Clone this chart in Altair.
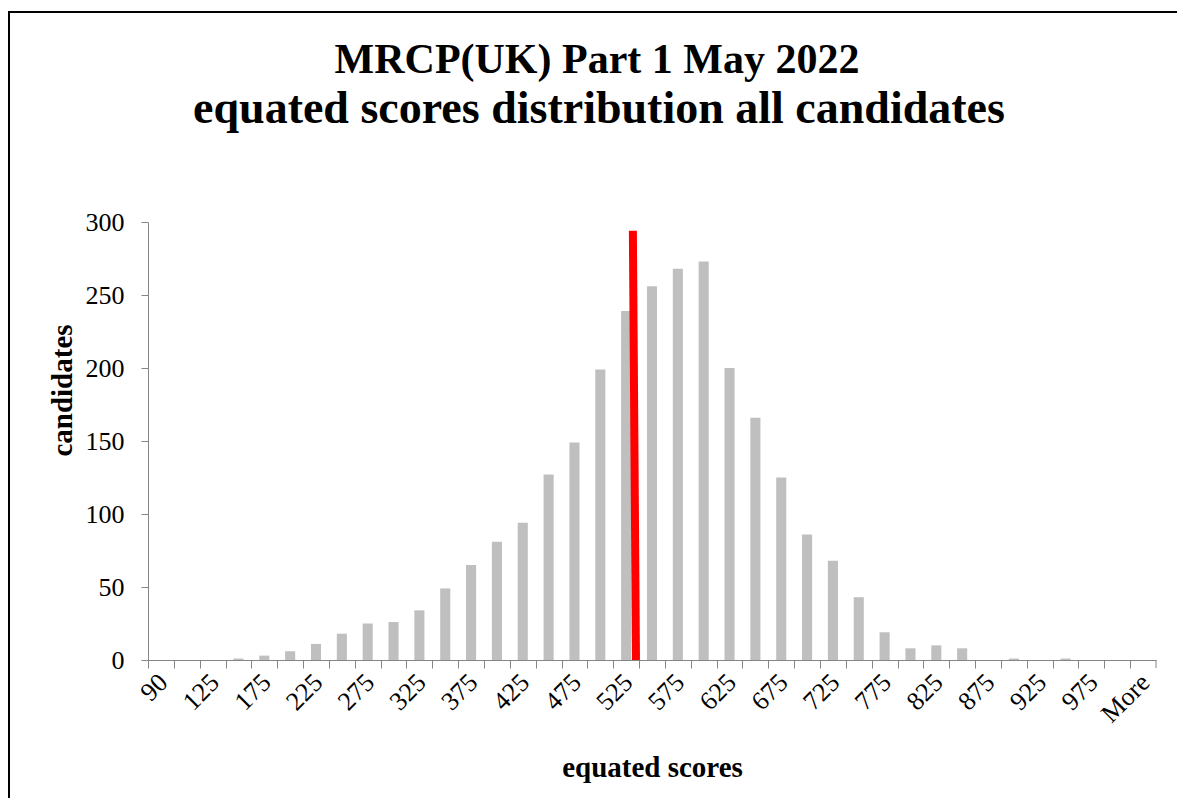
import altair as alt
import pandas as pd

categories = ["90", "100", "125", "150", "175", "200", "225", "250", "275", "300",
              "325", "350", "375", "400", "425", "450", "475", "500", "525", "550",
              "575", "600", "625", "650", "675", "700", "725", "750", "775", "800",
              "825", "850", "875", "900", "925", "950", "975", "1000", "More"]
counts = [0, 0, 0, 1, 3, 6, 11, 18, 25, 26,
          34, 49, 65, 81, 94, 127, 149, 199, 239, 256,
          268, 273, 200, 166, 125, 86, 68, 43, 19, 8,
          10, 8, 0, 1, 0, 1, 0, 0, 0]
shown_labels = ["90", "125", "175", "225", "275", "325", "375", "425", "475", "525",
                "575", "625", "675", "725", "775", "825", "875", "925", "975", "More"]
y_ticks = [0, 50, 100, 150, 200, 250, 300]

# pass-mark line, in category-slot units along the x axis
pass_pos = [18.76, 18.88]
pass_val = [294, 0]

title_line1 = "MRCP(UK) Part 1 May 2022"
title_line2 = "equated scores distribution all candidates"

FONT = "Liberation Serif"
AXIS_GREY = "#868686"
W, H = 1008, 438
STEP = W / len(categories)

df = pd.DataFrame({"score": categories, "candidates": counts})
pass_df = pd.DataFrame({"pos": pass_pos, "cand": pass_val, "o": [0, 1]})
one = pd.DataFrame({"a": [0]})

label_list = "[" + ",".join("'" + s + "'" for s in shown_labels) + "]"

bars = alt.Chart(df).mark_bar(color="#BFBFBF").encode(
    x=alt.X("score:N", sort=categories,
            scale=alt.Scale(paddingInner=0.61, paddingOuter=0.305),
            axis=alt.Axis(title="equated scores",
                          labelExpr=f"indexof({label_list}, datum.label) >= 0 ? datum.label : ''",
                          labelAngle=-45, labelAlign="right", labelBaseline="middle",
                          labelPadding=10, labelOffset=STEP / 2 + 2,
                          tickOffset=-STEP / 2, tickSize=8, tickColor=AXIS_GREY,
                          domainColor=AXIS_GREY, labelOverlap=False, labelBound=False,
                          labelFont=FONT, labelFontSize=26, labelColor="black",
                          titleFont=FONT, titleFontSize=29, titleFontWeight="bold",
                          titleColor="black", titleY=116, titleBaseline="alphabetic")),
    y=alt.Y("candidates:Q", scale=alt.Scale(domain=[0, 300], nice=False),
            axis=alt.Axis(title="candidates", values=y_ticks, grid=False,
                          tickSize=7, tickColor=AXIS_GREY, domainColor=AXIS_GREY,
                          labelPadding=17, labelFont=FONT, labelFontSize=26,
                          labelColor="black", titleFont=FONT, titleFontSize=29,
                          titleFontWeight="bold", titleColor="black",
                          titleX=-77, titleY=168, titleAlign="center",
                          titleBaseline="alphabetic", titleAngle=270))
)

end_tick = alt.Chart(one).mark_rule(color=AXIS_GREY, strokeWidth=1).encode(
    x=alt.value(W), y=alt.value(H), y2=alt.value(H + 8)
)

pass_line = alt.Chart(pass_df).mark_line(color="#FF0000", strokeWidth=8, strokeCap="butt").encode(
    x=alt.X("pos:Q", scale=alt.Scale(domain=[0, len(categories)], nice=False, zero=False), axis=None),
    y=alt.Y("cand:Q", scale=alt.Scale(domain=[0, 300], nice=False)),
    order="o:Q"
)

frame = alt.Chart(one).mark_rect(filled=False, stroke="black", strokeWidth=2).encode(
    x=alt.value(-139), x2=alt.value(2000), y=alt.value(-210), y2=alt.value(2000)
)

title1 = alt.Chart(one).mark_text(
    text=title_line1, font=FONT, fontSize=42, fontWeight="bold", color="black",
    align="center", baseline="alphabetic"
).encode(x=alt.value(449), y=alt.value(-149))

title2 = alt.Chart(one).mark_text(
    text=title_line2, font=FONT, fontSize=46, fontWeight="bold", color="black",
    align="center", baseline="alphabetic"
).encode(x=alt.value(451), y=alt.value(-99))

chart = alt.layer(bars, end_tick, pass_line, frame, title1, title2).resolve_scale(x="independent").properties(
    width=W, height=H,
    autosize=alt.AutoSizeParams(type="none"),
    padding={"left": 140, "top": 214, "right": 21, "bottom": 138},
    background="white",
).configure_view(stroke=None)

chart.save("out.html", embed_options={"renderer": "svg", "actions": False})
